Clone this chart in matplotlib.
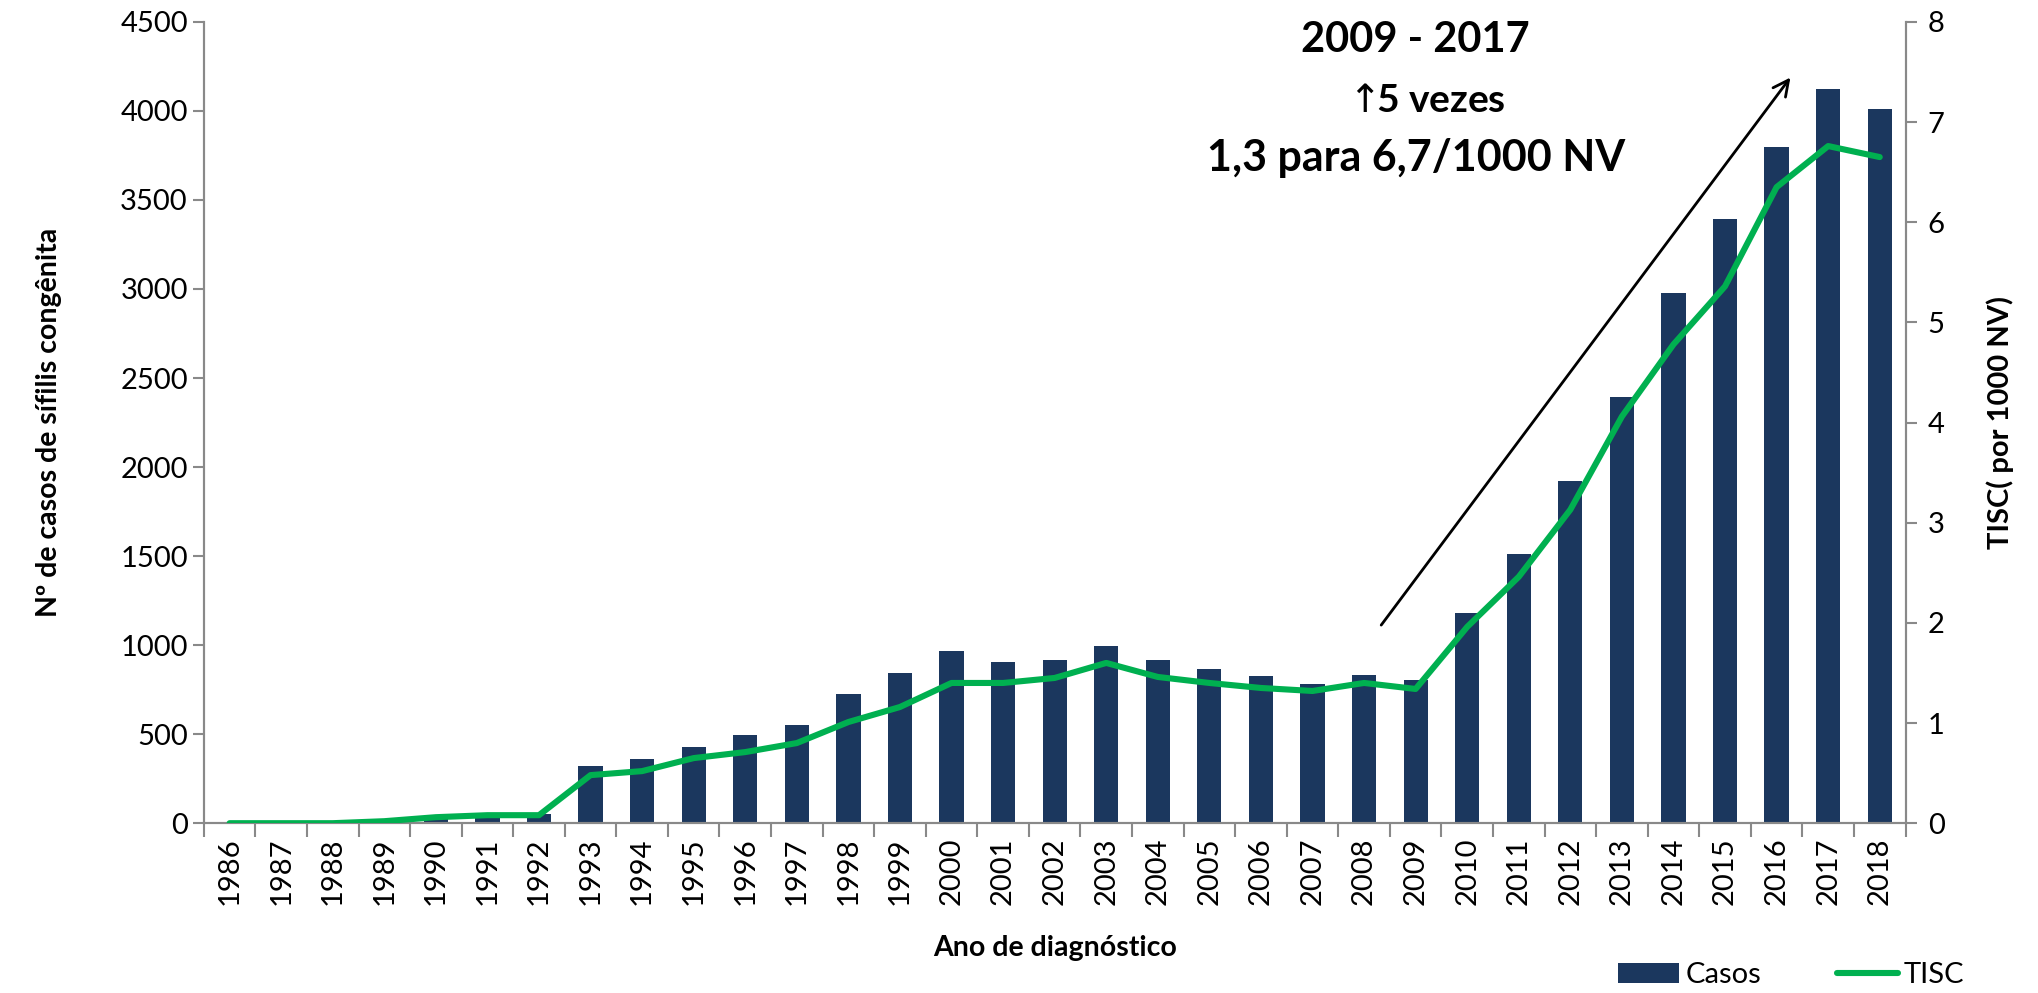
import matplotlib
matplotlib.use("Agg")
import matplotlib.pyplot as plt
import numpy as np

# dados
anos = [str(a) for a in range(1986, 2019)]
casos = [2, 2, 2, 10, 30, 55, 50, 320, 363, 430, 498, 554, 723, 846, 968,
         903, 914, 993, 914, 867, 824, 779, 835, 802, 1181, 1509, 1923,
         2395, 2978, 3393, 3800, 4122, 4011]
tisc = [0.0, 0.0, 0.0, 0.02, 0.06, 0.08, 0.08, 0.48, 0.52, 0.65, 0.71, 0.80,
        1.01, 1.16, 1.40, 1.40, 1.45, 1.60, 1.46, 1.40, 1.35, 1.32, 1.40,
        1.34, 1.96, 2.46, 3.13, 4.06, 4.78, 5.36, 6.35, 6.76, 6.65]

plt.rcParams['font.family'] = ['Lato', 'DejaVu Sans']
azul = '#1b375e'
verde = '#00b050'
cinza = '#898989'

fig = plt.figure(figsize=(20.38, 9.93), dpi=100)
ax = fig.add_axes([0.100, 0.171, 0.835, 0.807])
ax2 = ax.twinx()

x = np.arange(len(anos))
barras = ax.bar(x, casos, width=0.47, color=azul, label='Casos', zorder=2)
linha, = ax2.plot(x, tisc, color=verde, lw=4.4, label='TISC', zorder=3,
                  solid_capstyle='round')

ax.set_xlim(-0.5, len(anos) - 0.5)
ax.set_ylim(0, 4500)
ax.set_yticks(range(0, 4501, 500))
ax2.set_ylim(0, 8)
ax2.set_yticks(range(0, 9))

ax.set_xticks(x)
ax.set_xticklabels(anos, rotation=90, fontsize=21)
ax.set_xticks(np.arange(-0.5, len(anos), 1), minor=True)
ax.tick_params(axis='x', which='major', length=0, pad=10)
ax.tick_params(axis='x', which='minor', length=10, width=1.5, color=cinza)
ax.tick_params(axis='y', labelsize=21, length=8, width=1.5, color=cinza)
ax2.tick_params(axis='y', labelsize=21, length=8, width=1.5, color=cinza,
                pad=8)

for a in (ax, ax2):
    a.spines['top'].set_visible(False)
    for s in ('left', 'right', 'bottom'):
        a.spines[s].set_color(cinza)
        a.spines[s].set_linewidth(1.5)

ax.set_ylabel('Nº de casos de sífilis congênita', fontsize=20.5,
              fontweight='bold', labelpad=42)
ax2.set_ylabel('TISC( por 1000 NV)', fontsize=21, fontweight='bold',
               labelpad=30)
ax.set_xlabel('Ano de diagnóstico', fontsize=20.5, fontweight='bold',
              labelpad=22)

# anotacao
ax.annotate('', xy=(30.3, 4200), xytext=(22.3, 1100),
            arrowprops=dict(arrowstyle='->', color='black', lw=2,
                            mutation_scale=28), zorder=4)
ax.text(23.0, 4400, '2009 - 2017', fontsize=30, fontweight='bold',
        ha='center', va='center')
ax.text(21.55, 4060, r'${\uparrow}\!\!$5 vezes', fontsize=28,
        fontweight='bold', ha='left', va='center')
ax.text(23.0, 3735, '1,3 para 6,7/1000 NV', fontsize=31, fontweight='bold',
        ha='center', va='center')

fig.legend([barras, linha], ['Casos', 'TISC'], loc='center',
           bbox_to_anchor=(0.879, 0.018), ncol=2, frameon=False,
           fontsize=21, columnspacing=2.6, handlelength=2.1,
           handletextpad=0.2)

fig.savefig('out.png', dpi=100)
